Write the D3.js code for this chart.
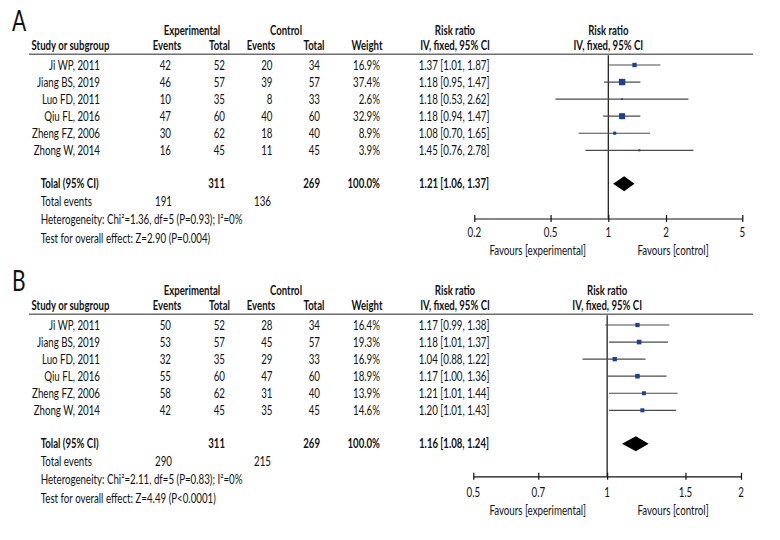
<!DOCTYPE html>
<html><head><meta charset="utf-8">
<script src="https://cdn.jsdelivr.net/npm/d3@7/dist/d3.min.js"></script>
<style>
body{margin:0;background:#fff;}
svg text{font-family:"Lato","Liberation Sans",sans-serif;fill:#111;}
</style></head>
<body>
<svg id="chart" width="780" height="540"></svg>
<script>
// ---------- DATA ----------
const studies = ["Ji WP, 2011", "Jiang BS,  2019", "Luo FD, 2011", "Qiu FL, 2016", "Zheng FZ, 2006", "Zhong W, 2014"];

// Panel A
const expEventsA = [42, 46, 10, 47, 30, 16];
const expTotalA  = [52, 57, 35, 60, 62, 45];
const ctrlEventsA = [20, 39, 8, 40, 18, 11];
const ctrlTotalA  = [34, 57, 33, 60, 40, 45];
const weightA = [16.9, 37.4, 2.6, 32.9, 8.9, 3.9];
const rrA   = [1.37, 1.18, 1.18, 1.18, 1.08, 1.45];
const lowA  = [1.01, 0.95, 0.53, 0.94, 0.70, 0.76];
const highA = [1.87, 1.47, 2.62, 1.47, 1.65, 2.78];
const totalA = {expTotal: 311, ctrlTotal: 269, weight: "100.0%", rr: 1.21, low: 1.06, high: 1.37, expEvents: 191, ctrlEvents: 136};
const hetA = "Heterogeneity: Chi²=1.36, df=5 (P=0.93); I²=0%";
const testA = "Test for overall effect: Z=2.90 (P=0.004)";
const ticksA = [0.2, 0.5, 1, 2, 5];

// Panel B
const expEventsB = [50, 53, 32, 55, 58, 42];
const expTotalB  = [52, 57, 35, 60, 62, 45];
const ctrlEventsB = [28, 45, 29, 47, 31, 35];
const ctrlTotalB  = [34, 57, 33, 60, 40, 45];
const weightB = [16.4, 19.3, 16.9, 18.9, 13.9, 14.6];
const rrB   = [1.17, 1.18, 1.04, 1.17, 1.21, 1.20];
const lowB  = [0.99, 1.01, 0.88, 1.00, 1.01, 1.01];
const highB = [1.38, 1.37, 1.22, 1.36, 1.44, 1.43];
const totalB = {expTotal: 311, ctrlTotal: 269, weight: "100.0%", rr: 1.16, low: 1.08, high: 1.24, expEvents: 290, ctrlEvents: 215};
const hetB = "Heterogeneity: Chi²=2.11, df=5 (P=0.83); I²=0%";
const testB = "Test for overall effect: Z=4.49 (P<0.0001)";
const ticksB = [0.5, 0.7, 1, 1.5, 2];

// ---------- DRAW ----------
const svg = d3.select("#chart");
const FS = 13;
const fmt2 = d3.format(".2f");

// calibrate horizontal condensing so text widths match the condensed face of the original
function measure(s, bold) {
  const t = svg.append("text").style("font-size", FS + "px").style("font-weight", bold ? "bold" : "normal").text(s);
  const w = t.node().getComputedTextLength();
  t.remove();
  return w;
}
const SX = 202 / measure(hetA, false);
const SXB = 78 / measure("Study or subgroup", true);

function panel(cfg) {
  const g = svg.append("g").attr("transform", `translate(0,${cfg.oy})`);
  const x = d3.scaleLog().domain([cfg.ticks[0], cfg.ticks[cfg.ticks.length - 1]]).range(cfg.range);
  const rowY = i => 65 + 17.06 * i;
  const yTotal = 183.7, yEv = 201, yHet = 219, yTest = 238;
  const ruleY = 54.3;

  const txt = (s, xx, yy, anchor, bold) => g.append("text")
    .attr("transform", `translate(${xx},${yy}) scale(${bold ? SXB : SX},1)`)
    .attr("dy", "0.36em")
    .attr("text-anchor", anchor || "start")
    .style("font-size", FS + "px")
    .style("font-weight", bold ? "bold" : "normal")
    .text(s);

  // panel label
  g.append("text").attr("transform", `translate(12,31) scale(0.75,1)`).style("font-size", "28px").text(cfg.label);

  // headers
  txt("Experimental", 192, 30.7, "middle", true);
  txt("Control", 286, 30.7, "middle", true);
  txt("Risk ratio", 455, 30.7, "middle", true);
  txt("Risk ratio", x(1), 30.7, "middle", true);
  txt("Study or subgroup", 31.5, 45, "start", true);
  txt("Events", 167, 45, "middle", true);
  txt("Total", 219.5, 45, "middle", true);
  txt("Events", 261, 45, "middle", true);
  txt("Total", 314, 45, "middle", true);
  txt("Weight", 367, 45, "middle", true);
  txt("IV, fixed, 95% CI", 455, 45, "middle", true);
  txt("IV, fixed, 95% CI", x(1), 45, "middle", true);

  g.append("line").attr("x1", 29).attr("x2", 753).attr("y1", ruleY).attr("y2", ruleY)
    .attr("stroke", "#6e6e6e").attr("stroke-width", 1.6);

  // rows
  studies.forEach((s, i) => {
    const y = rowY(i);
    txt(s, 100, y, "end");
    txt(cfg.expEvents[i], 171, y, "end");
    txt(cfg.expTotal[i], 225, y, "end");
    txt(cfg.ctrlEvents[i], 272.5, y, "end");
    txt(cfg.ctrlTotal[i], 320, y, "end");
    txt(cfg.weight[i].toFixed(1) + "%", 380, y, "end");
    txt(`${fmt2(cfg.rr[i])} [${fmt2(cfg.low[i])}, ${fmt2(cfg.high[i])}]`, 454, y, "middle");
  });

  // totals
  const t = cfg.total;
  txt("Tolal (95% CI)", 40.7, yTotal, "start", true);
  txt(t.expTotal, 225, yTotal, "end", true);
  txt(t.ctrlTotal, 320, yTotal, "end", true);
  txt(t.weight, 380, yTotal, "end", true);
  txt(`${fmt2(t.rr)} [${fmt2(t.low)}, ${fmt2(t.high)}]`, 454, yTotal, "middle", true);
  txt("Total events", 40.7, yEv, "start");
  txt(t.expEvents, 172, yEv, "end");
  txt(t.ctrlEvents, 271, yEv, "end");
  txt(cfg.het, 40.7, yHet, "start");
  txt(cfg.test, 40.7, yTest, "start");

  // axis
  const axisY = cfg.axisY;
  const axis = d3.axisBottom(x).tickValues(cfg.ticks).tickFormat(d => String(d)).tickSize(0).tickPadding(0);
  const ag = g.append("g").attr("transform", `translate(0,${axisY})`).call(axis);
  ag.select(".domain").attr("stroke", "#111").attr("stroke-width", 1.2);
  ag.selectAll(".tick text").remove();
  ag.selectAll(".tick").append("line").attr("y1", -3.5).attr("y2", 3.5).attr("stroke", "#111").attr("stroke-width", 1.2);
  cfg.ticks.forEach(v => txt(String(v), x(v), 232, "middle"));
  txt("Favours [experimental]", 537.7, 250, "middle");
  txt("Favours [control]", 673, 250, "middle");

  // null line
  g.append("line").attr("x1", x(1)).attr("x2", x(1)).attr("y1", ruleY + 1).attr("y2", axisY)
    .attr("stroke", "#111").attr("stroke-width", 1.2);

  // CIs and squares
  studies.forEach((s, i) => {
    const y = rowY(i);
    g.append("line").attr("x1", x(cfg.low[i])).attr("x2", x(cfg.high[i]))
      .attr("y1", y).attr("y2", y).attr("stroke", "#4a4a4a").attr("stroke-width", 1.2);
    const side = 1.05 * Math.sqrt(cfg.weight[i]);
    g.append("rect").attr("x", x(cfg.rr[i]) - side / 2).attr("y", y - side / 2)
      .attr("width", side).attr("height", side).attr("fill", "#1d3f96");
  });

  // diamond
  const h = 7.5;
  g.append("path")
    .attr("d", `M${x(t.low)},${yTotal}L${x(t.rr)},${yTotal - h}L${x(t.high)},${yTotal}L${x(t.rr)},${yTotal + h}Z`)
    .attr("fill", "#000");
}

panel({label: "A", oy: 0, ticks: ticksA, range: [474.3, 742.3], axisY: 218.5,
  expEvents: expEventsA, expTotal: expTotalA, ctrlEvents: ctrlEventsA, ctrlTotal: ctrlTotalA,
  weight: weightA, rr: rrA, low: lowA, high: highA, total: totalA, het: hetA, test: testA});
panel({label: "B", oy: 260, ticks: ticksB, range: [473.3, 741], axisY: 216.3,
  expEvents: expEventsB, expTotal: expTotalB, ctrlEvents: ctrlEventsB, ctrlTotal: ctrlTotalB,
  weight: weightB, rr: rrB, low: lowB, high: highB, total: totalB, het: hetB, test: testB});
</script>
</body></html>
